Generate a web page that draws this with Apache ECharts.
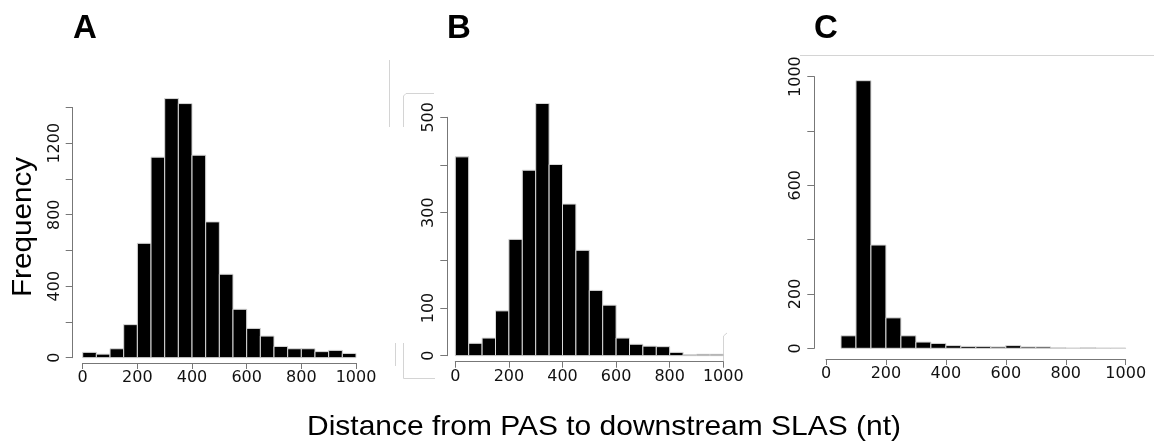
<!DOCTYPE html>
<html>
<head>
<meta charset="utf-8">
<script src="https://cdn.jsdelivr.net/npm/echarts@6/dist/echarts.min.js"></script>
<style>html,body{margin:0;padding:0;background:#fff}#c{width:1154px;height:444px}</style>
</head>
<body>
<div id="c"></div>
<script>
// Bin edges (nt)
var binEdges = [0,50,100,150,200,250,300,350,400,450,500,550,600,650,700,750,800,850,900,950,1000];
// Panel A counts
var countsA = [30,20,50,185,640,1122,1450,1422,1133,760,467,271,164,121,63,50,50,34,41,24];
// Panel B counts
var countsB = [417,26,37,94,244,389,529,401,318,221,137,106,37,24,20,19,7,2,3,3];
// Panel C counts
var countsC = [0,46,985,380,112,46,23,18,10,7,7,5,10,5,5,3,1,3,1,1];
// Tick labels
var xTicks = [0,200,400,600,800,1000];
var yLabelsA = [0,400,800,1200];
var yLabelsB = [0,100,300,500];
var yLabelsC = [0,200,600,1000];
var panelLetters = ['A','B','C'];
var yTitle = 'Frequency';
var xTitle = 'Distance from PAS to downstream SLAS (nt)';

function toData(counts){
  var d = [];
  for (var i = 0; i < counts.length; i++) {
    if (counts[i] > 0) d.push([binEdges[i], binEdges[i+1], counts[i]]);
  }
  return d;
}

function renderBar(params, api){
  var p0 = api.coord([api.value(0), 0]);
  var p1 = api.coord([api.value(1), api.value(2)]);
  return {
    type: 'rect',
    shape: {x: p0[0], y: p1[1], width: p1[0]-p0[0], height: p0[1]-p1[1]},
    style: {fill: '#000', stroke: '#d8d8d8', lineWidth: 1}
  };
}

var tickFont = {fontFamily: 'DejaVu Sans', fontSize: 16, color: '#111'};

function xAxisDef(grid, offset){
  return {
    type: 'value', gridIndex: grid, min: 0, max: 1000, interval: 200, offset: offset,
    axisLine: {show: true, onZero: false, lineStyle: {color: '#777', width: 1}},
    axisTick: {show: true, length: 6, lineStyle: {color: '#777'}},
    splitLine: {show: false},
    axisLabel: Object.assign({margin: 7, formatter: function(v){ return xTicks.indexOf(v) >= 0 ? String(v) : ''; }}, tickFont)
  };
}
function yAxisDef(grid, max, interval, labels, offset){
  return {
    type: 'value', gridIndex: grid, min: 0, max: max, interval: interval, offset: offset,
    axisLine: {show: true, onZero: false, lineStyle: {color: '#777', width: 1}},
    axisTick: {show: true, length: 7, lineStyle: {color: '#777'}},
    splitLine: {show: false},
    axisLabel: Object.assign({margin: 10, rotate: 90, showMaxLabel: true, formatter: function(v){ return labels.indexOf(v) >= 0 ? String(v) : ''; }}, tickFont)
  };
}

var chart = echarts.init(document.getElementById('c'), null, {renderer: 'canvas'});
var faint = {stroke: '#d4d4d4', lineWidth: 1, fill: null};
chart.setOption({
  animation: false,
  backgroundColor: '#fff',
  grid: [
    {left: 82.7, top: 107.5, width: 273.3, height: 250.2},
    {left: 455.3, top: 117.3, width: 268, height: 238.4},
    {left: 826, top: 76.6, width: 299.7, height: 271.7}
  ],
  xAxis: [xAxisDef(0, 5.3), xAxisDef(1, 6), xAxisDef(2, 10.7)],
  yAxis: [
    yAxisDef(0, 1400, 200, yLabelsA, 10),
    yAxisDef(1, 500, 100, yLabelsB, 8),
    yAxisDef(2, 1000, 200, yLabelsC, 11.7)
  ],
  series: [
    {type: 'custom', xAxisIndex: 0, yAxisIndex: 0, renderItem: renderBar, data: toData(countsA), clip: false},
    {type: 'custom', xAxisIndex: 1, yAxisIndex: 1, renderItem: renderBar, data: toData(countsB), clip: false},
    {type: 'custom', xAxisIndex: 2, yAxisIndex: 2, renderItem: renderBar, data: toData(countsC), clip: false}
  ],
  graphic: [
    {type: 'text', left: 73, top: 12, style: {text: panelLetters[0], font: 'bold 33px "Liberation Sans", Arial', fill: '#000'}},
    {type: 'text', left: 447, top: 12, style: {text: panelLetters[1], font: 'bold 33px "Liberation Sans", Arial', fill: '#000'}},
    {type: 'text', left: 814, top: 12, style: {text: panelLetters[2], font: 'bold 33px "Liberation Sans", Arial', fill: '#000'}},
    {type: 'text', x: 23, y: 227, rotation: Math.PI/2, scaleX: 1.06, style: {text: yTitle, font: '28px "Liberation Sans", Arial', fill: '#000', align: 'center', verticalAlign: 'middle'}},
    {type: 'text', x: 604, y: 427, scaleX: 1.07, style: {text: xTitle, font: '28px "Liberation Sans", Arial', fill: '#000', align: 'center', verticalAlign: 'middle'}},
    // faint scan/frame lines
    {type: 'line', shape: {x1: 800, y1: 55.5, x2: 1154, y2: 55.5}, style: faint},
    {type: 'line', shape: {x1: 389.5, y1: 60, x2: 389.5, y2: 127}, style: faint},
    {type: 'polyline', shape: {points: [[403.5,127],[403.5,96],[406,93.5],[434,93.5]]}, style: faint},
    {type: 'polyline', shape: {points: [[403.5,343],[403.5,378.5],[435,378.5]]}, style: faint},
    {type: 'line', shape: {x1: 395.5, y1: 343, x2: 395.5, y2: 366}, style: faint},
    {type: 'polyline', shape: {points: [[723.5,362],[723.5,336],[727,333]]}, style: faint}
  ]
});
</script>
</body>
</html>
